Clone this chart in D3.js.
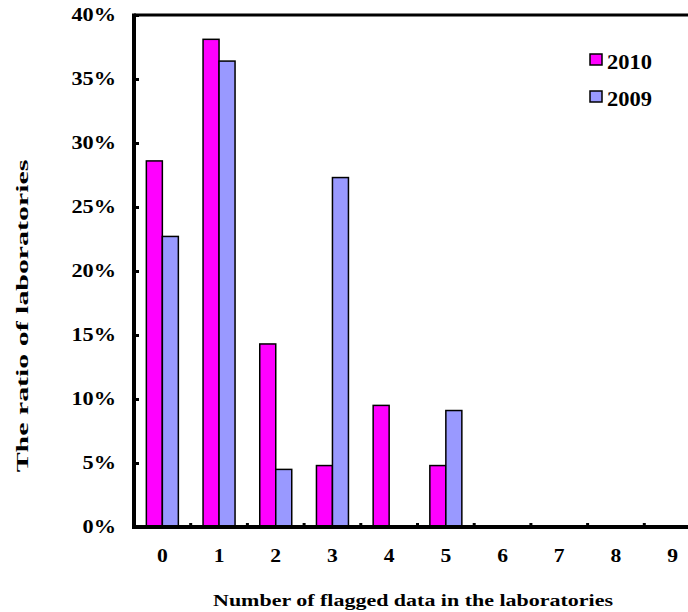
<!DOCTYPE html>
<html><head><meta charset="utf-8">
<script src="https://cdn.jsdelivr.net/npm/d3@7"></script>
<style>body{margin:0;background:#fff}svg{display:block}</style>
</head><body>
<svg id="c" width="688" height="612"></svg>
<script>
const categories = ["0","1","2","3","4","5","6","7","8","9"];
const seriesNames = ["2010","2009"];
const values2010 = [28.6, 38.1, 14.3, 4.8, 9.5, 4.8, 0, 0, 0, 0];
const values2009 = [22.7, 36.4, 4.5, 27.3, 0, 9.1, 0, 0, 0, 0];
const yTicks = [0, 5, 10, 15, 20, 25, 30, 35, 40];
const colors = ["#FF00FF", "#9999FF"];

const svg = d3.select("#c");
const font = "'Liberation Serif','Times New Roman',serif";
const x0 = 134, x1 = 701, yTop = 15, yBot = 527;
const x = d3.scaleBand().domain(categories).range([x0, x1]).paddingInner(0).paddingOuter(0);
const y = d3.scaleLinear().domain([0, 40]).range([yBot, yTop]);
const barW = 16;
const series = [values2010, values2009];

// text helper: horizontally stretched text (anchor: start/middle/end), rot for rotation
function stext(parent, str, px, py, size, sx, anchor, rot) {
  const t = parent.append("text")
    .attr("font-family", font).attr("font-weight", "bold").attr("font-size", size)
    .attr("text-anchor", anchor).attr("x", 0).attr("y", 0)
    .attr("transform", `translate(${px},${py}) rotate(${rot||0}) scale(${sx},1)`)
    .text(str);
  return t;
}
function fitText(parent, str, px, py, size, width, anchor, rot) {
  const t = stext(parent, str, px, py, size, 1, anchor, rot);
  const w = t.node().getComputedTextLength();
  t.attr("transform", `translate(${px},${py}) rotate(${rot||0}) scale(${width / w},1)`);
  return t;
}

// bars
series.forEach((vals, si) => {
  svg.append("g").selectAll("rect").data(vals.map((v,i)=>({v, c: categories[i]})).filter(d=>d.v>0))
    .join("rect")
    .attr("x", d => x(d.c) + x.bandwidth()/2 - barW + si*barW)
    .attr("y", d => y(d.v))
    .attr("width", barW)
    .attr("height", d => y(0) - y(d.v))
    .attr("fill", colors[si])
    .attr("stroke", "#000")
    .attr("stroke-width", 1.5);
});

// frame top
svg.append("line").attr("x1", x0).attr("x2", 688).attr("y1", yTop).attr("y2", yTop)
  .attr("stroke", "#000").attr("stroke-width", 3);

// y axis
const yAxis = d3.axisRight(y).tickValues(yTicks).tickSize(5).tickFormat("");
const gy = svg.append("g").attr("transform", `translate(${x0},0)`).call(yAxis);
gy.select(".domain").remove();
gy.selectAll(".tick line").attr("stroke", "#000").attr("stroke-width", 3);
svg.append("line").attr("x1", x0).attr("x2", x0).attr("y1", yTop-1.5).attr("y2", yBot+2)
  .attr("stroke", "#000").attr("stroke-width", 4);
const gyl = svg.append("g");
yTicks.forEach(d => stext(gyl, d + "%", 116, y(d) + 6, 18, 1.24, "end"));

// x axis
const boundaries = categories.map(c => x(c) + x.bandwidth());
svg.append("g").selectAll("line").data(boundaries).join("line")
  .attr("x1", d => d).attr("x2", d => d).attr("y1", yBot).attr("y2", yBot - 4)
  .attr("stroke", "#000").attr("stroke-width", 3);
svg.append("line").attr("x1", x0 - 2).attr("x2", 688).attr("y1", yBot).attr("y2", yBot)
  .attr("stroke", "#000").attr("stroke-width", 4);
const gxl = svg.append("g");
categories.forEach(c => stext(gxl, c, x(c) + x.bandwidth()/2, 562, 18, 1.2, "middle"));

// titles
fitText(svg, "Number of flagged data in the laboratories", 413, 606, 16, 400, "middle", 0);
fitText(svg, "The ratio of laboratories", 28, 316, 16.5, 313, "middle", -90);

// legend
const lg = svg.append("g");
seriesNames.forEach((n, i) => {
  const yy = 54 + i*37;
  lg.append("rect").attr("x", 590).attr("y", yy).attr("width", 12).attr("height", 11)
    .attr("fill", colors[i]).attr("stroke", "#000").attr("stroke-width", 1.5);
  fitText(lg, n, 607, yy + 15, 20, 45, "start", 0);
});
</script>
</body></html>
